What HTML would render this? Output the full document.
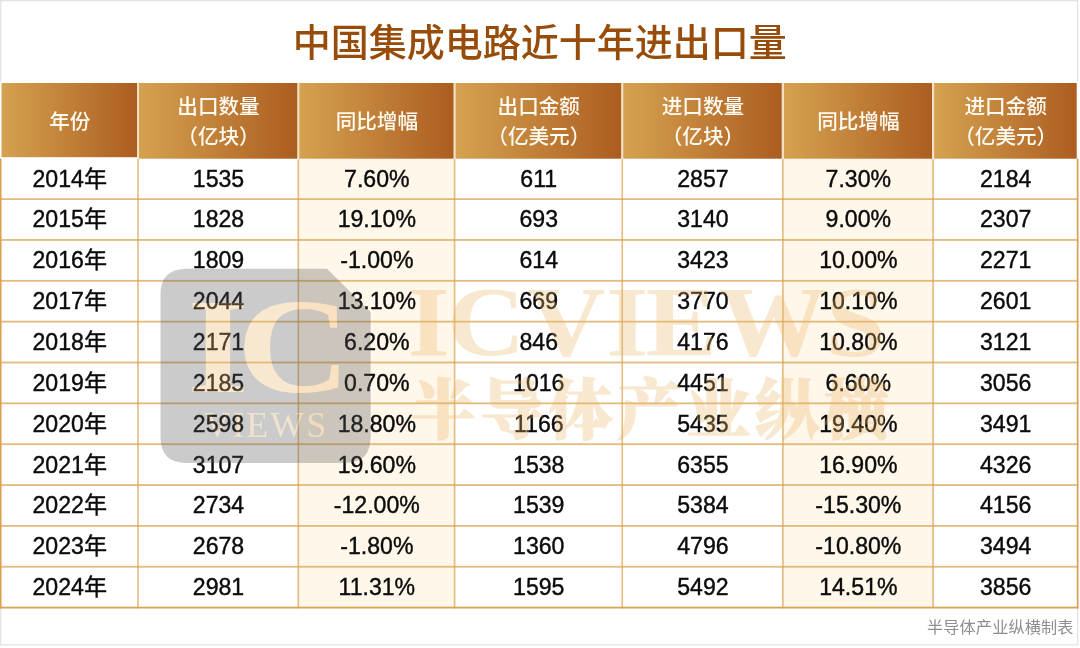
<!DOCTYPE html>
<html lang="zh-CN">
<head>
<meta charset="utf-8">
<title>中国集成电路近十年进出口量</title>
<style>
html,body{margin:0;padding:0;background:#fff;}
body{width:1080px;height:648px;position:relative;overflow:hidden;font-family:"Liberation Sans","Noto Sans CJK SC",sans-serif;}
.bg{position:absolute;left:0;top:0;}
.title{position:absolute;left:292.7px;top:14.8px;margin:0;font-size:38.0px;line-height:56px;font-weight:500;color:#974c09;white-space:nowrap;letter-spacing:0;}
.grid{position:absolute;left:0.75px;top:83.0px;width:1076.85px;border-collapse:separate;border-spacing:0;table-layout:fixed;}
.grid th,.grid td{padding:0;border:0;text-align:center;vertical-align:middle;white-space:nowrap;overflow:visible;}
.grid th{height:75.25px;color:#fffaf2;font-size:20.6px;line-height:30.0px;font-weight:500;}
.grid th span{position:relative;display:inline-block;left:0.4px;top:1.12px;}
.grid td{height:40.85px;color:#0b0b0b;font-family:"Liberation Sans", "Noto Sans CJK SC", sans-serif;font-size:23.1px;line-height:40.85px;font-weight:400;-webkit-text-stroke:0.4px #0b0b0b;}
.grid td span{position:relative;display:inline-block;left:0.4px;top:0.4px;line-height:40.85px;}
.foot{position:absolute;right:6.4px;top:615px;font-size:16.1px;line-height:24px;color:#8e8e8e;white-space:nowrap;letter-spacing:0.2px;}
.wm{position:absolute;left:0;top:0;width:1080px;height:648px;pointer-events:none;}
</style>
</head>
<body>
<svg class="bg" width="1080" height="648" viewBox="0 0 1080 648">
<defs><linearGradient id="hg" x1="0" y1="0" x2="1" y2="0"><stop offset="0" stop-color="#d5a250"/><stop offset="1" stop-color="#ac5d20"/></linearGradient></defs>
<rect x="0.65" y="0.65" width="1077" height="644.2" fill="#fff" stroke="#e4e4e4" stroke-width="1.3"/>
<rect x="298.3" y="158.25" width="156.30" height="449.35" fill="#fff7ea"/>
<rect x="782.9" y="158.25" width="150.20" height="449.35" fill="#fff7ea"/>
<rect x="0" y="198.20" width="1078.3" height="1.8" fill="#d7a14c" fill-opacity="0.72"/>
<rect x="0" y="239.05" width="1078.3" height="1.8" fill="#d7a14c" fill-opacity="0.72"/>
<rect x="0" y="279.90" width="1078.3" height="1.8" fill="#d7a14c" fill-opacity="0.72"/>
<rect x="0" y="320.75" width="1078.3" height="1.8" fill="#d7a14c" fill-opacity="0.72"/>
<rect x="0" y="361.60" width="1078.3" height="1.8" fill="#d7a14c" fill-opacity="0.72"/>
<rect x="0" y="402.45" width="1078.3" height="1.8" fill="#d7a14c" fill-opacity="0.72"/>
<rect x="0" y="443.30" width="1078.3" height="1.8" fill="#d7a14c" fill-opacity="0.72"/>
<rect x="0" y="484.15" width="1078.3" height="1.8" fill="#d7a14c" fill-opacity="0.72"/>
<rect x="0" y="525.00" width="1078.3" height="1.8" fill="#d7a14c" fill-opacity="0.72"/>
<rect x="0" y="565.85" width="1078.3" height="1.8" fill="#d7a14c" fill-opacity="0.72"/>
<rect x="0" y="606.70" width="1078.3" height="1.8" fill="#d9a352"/>
<rect x="0.00" y="158.70" width="1.5" height="449.80" fill="#d9a352"/>
<rect x="137.15" y="158.70" width="1.7" height="449.80" fill="#d7a14c" fill-opacity="0.68"/>
<rect x="297.45" y="158.70" width="1.7" height="449.80" fill="#d7a14c" fill-opacity="0.68"/>
<rect x="453.75" y="158.70" width="1.7" height="449.80" fill="#d7a14c" fill-opacity="0.68"/>
<rect x="621.35" y="158.70" width="1.7" height="449.80" fill="#d7a14c" fill-opacity="0.68"/>
<rect x="782.05" y="158.70" width="1.7" height="449.80" fill="#d7a14c" fill-opacity="0.68"/>
<rect x="932.25" y="158.70" width="1.7" height="449.80" fill="#d7a14c" fill-opacity="0.68"/>
<rect x="1076.75" y="158.70" width="1.7" height="449.80" fill="#d9a352"/>
<rect x="0" y="82.5" width="1080" height="75.70" fill="#fff"/>
<rect x="137" y="83.0" width="800" height="75.10" fill="#f1dfc6"/>
<rect x="1.5" y="83.0" width="135.50" height="74.20" fill="url(#hg)"/>
<rect x="139.0" y="83.0" width="158.20" height="75.70" fill="url(#hg)"/>
<rect x="299.4" y="83.0" width="154.10" height="75.70" fill="url(#hg)"/>
<rect x="455.7" y="83.0" width="165.40" height="75.70" fill="url(#hg)"/>
<rect x="623.3" y="83.0" width="158.40" height="75.70" fill="url(#hg)"/>
<rect x="784.0" y="83.0" width="148.00" height="75.70" fill="url(#hg)"/>
<rect x="934.2" y="83.0" width="142.50" height="75.70" fill="url(#hg)"/>
</svg>
<h1 class="title">中国集成电路近十年进出口量</h1>
<table class="grid"><colgroup><col style="width:137.25px"><col style="width:160.30px"><col style="width:156.30px"><col style="width:167.60px"><col style="width:160.70px"><col style="width:150.20px"><col style="width:144.50px"></colgroup>
<thead><tr><th><span>年份</span></th><th><span>出口数量<br>（亿块）</span></th><th><span>同比增幅</span></th><th><span>出口金额<br>（亿美元）</span></th><th><span>进口数量<br>（亿块）</span></th><th><span>同比增幅</span></th><th><span>进口金额<br>（亿美元）</span></th></tr></thead>
<tbody>
<tr><td><span>2014年</span></td><td><span>1535</span></td><td><span>7.60%</span></td><td><span>611</span></td><td><span>2857</span></td><td><span>7.30%</span></td><td><span>2184</span></td></tr>
<tr><td><span>2015年</span></td><td><span>1828</span></td><td><span>19.10%</span></td><td><span>693</span></td><td><span>3140</span></td><td><span>9.00%</span></td><td><span>2307</span></td></tr>
<tr><td><span>2016年</span></td><td><span>1809</span></td><td><span>-1.00%</span></td><td><span>614</span></td><td><span>3423</span></td><td><span>10.00%</span></td><td><span>2271</span></td></tr>
<tr><td><span>2017年</span></td><td><span>2044</span></td><td><span>13.10%</span></td><td><span>669</span></td><td><span>3770</span></td><td><span>10.10%</span></td><td><span>2601</span></td></tr>
<tr><td><span>2018年</span></td><td><span>2171</span></td><td><span>6.20%</span></td><td><span>846</span></td><td><span>4176</span></td><td><span>10.80%</span></td><td><span>3121</span></td></tr>
<tr><td><span>2019年</span></td><td><span>2185</span></td><td><span>0.70%</span></td><td><span>1016</span></td><td><span>4451</span></td><td><span>6.60%</span></td><td><span>3056</span></td></tr>
<tr><td><span>2020年</span></td><td><span>2598</span></td><td><span>18.80%</span></td><td><span>1166</span></td><td><span>5435</span></td><td><span>19.40%</span></td><td><span>3491</span></td></tr>
<tr><td><span>2021年</span></td><td><span>3107</span></td><td><span>19.60%</span></td><td><span>1538</span></td><td><span>6355</span></td><td><span>16.90%</span></td><td><span>4326</span></td></tr>
<tr><td><span>2022年</span></td><td><span>2734</span></td><td><span>-12.00%</span></td><td><span>1539</span></td><td><span>5384</span></td><td><span>-15.30%</span></td><td><span>4156</span></td></tr>
<tr><td><span>2023年</span></td><td><span>2678</span></td><td><span>-1.80%</span></td><td><span>1360</span></td><td><span>4796</span></td><td><span>-10.80%</span></td><td><span>3494</span></td></tr>
<tr><td><span>2024年</span></td><td><span>2981</span></td><td><span>11.31%</span></td><td><span>1595</span></td><td><span>5492</span></td><td><span>14.51%</span></td><td><span>3856</span></td></tr>
</tbody></table>
<div class="foot">半导体产业纵横制表</div>
<svg class="wm" width="1080" height="648" viewBox="0 0 1080 648">
<g opacity="0.315" font-family="'Liberation Serif', serif" fill="#eab76b">
<path d="M186.5 268.8 H327 L370.6 312 V437 Q370.6 463 344.6 463 H186.5 Q160.5 463 160.5 437 V294.8 Q160.5 268.8 186.5 268.8 Z" fill="#5a5a5a"/>
<text transform="scale(1.16,1)" x="161.4 204.1" y="392.5" font-size="136" font-weight="700">IC</text>
<text x="204.3" y="437" font-size="36" letter-spacing="2" fill-opacity="0.8">VIEWS</text>
<text transform="scale(1.08,1)" x="377.4 414.2 488.3 561.4 597.7 665.5 764.5" y="355" font-size="100" font-weight="700">ICVIEWS</text>
<text x="411.0 479.8 548.6 617.4 686.2 755.0 823.8" y="433.3" font-size="64.5" font-weight="900" stroke="#eab76b" stroke-width="1.5" stroke-linejoin="round" font-family="'Liberation Serif', 'Noto Serif CJK SC', serif">半导体产业纵横</text>
</g>
</svg>
</body>
</html>
